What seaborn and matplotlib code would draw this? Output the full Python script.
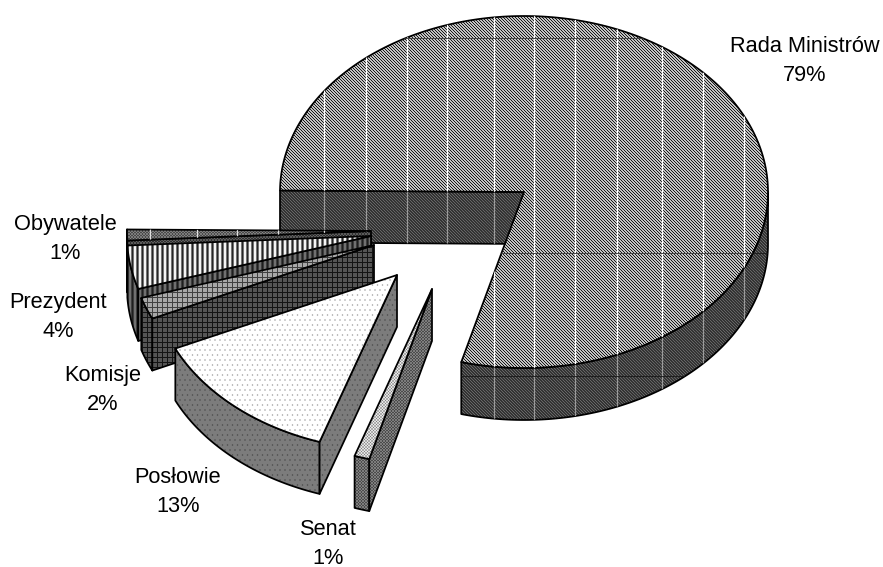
import numpy as np
import matplotlib
matplotlib.use("Agg")
import matplotlib.pyplot as plt
from matplotlib.patches import Polygon
import seaborn as sns

# Share of legislative initiatives by proposing body
categories = ["Rada Ministrów", "Senat", "Posłowie", "Komisje", "Prezydent", "Obywatele"]
shares = [79, 1, 13, 2, 4, 1]

sns.set_theme(style="white", rc={"axes.facecolor": "white", "figure.facecolor": "white"})
plt.rcParams["font.family"] = ["Liberation Sans", "DejaVu Sans"]

# Pie layout, in canvas pixels
DPI = 90  # hatch tiles are one inch wide, so 90 gives whole-pixel periods of 3 and 5
RX, RY, DEPTH = 244, 176, 52
START = 179.5
apexes = [(524, 192), (432, 289), (397, 275), (374, 245), (371, 236), (371, 231)]
label_xy = [(805, 61), (328, 544), (178, 492), (103, 390), (58, 317), (65, 239)]

# (face colour, hatch colour, hatch, hatch line width)
styles = {
    "Rada Ministrów": dict(top=("white", "black", "\\" * 10, 0.78), side=("#1e1e1e", "#6c6c6c", "\\" * 10, 0.85)),
    "Senat": dict(top=("#efefef", "#808080", "x" * 10, 0.35), side=("#3c3c3c", "#8c8c8c", "x" * 10, 0.5)),
    "Posłowie": dict(top=("white", "#a8a8a8", "...", 0.4), side=("#7c7c7c", "#505050", "...", 0.4)),
    "Komisje": dict(top=("#a8a8a8", "#404040", "+++", 0.8), side=("#555555", "#141414", "+++", 0.8)),
    "Prezydent": dict(top=("#f4f4f4", "#262626", "|||", 1.8), side=("#707070", "#1e1e1e", "|||", 1.8)),
    "Obywatele": dict(top=("#3a3a3a", "#8a8a8a", "x" * 10, 0.5), side=("#222222", "#6a6a6a", "x" * 10, 0.5)),
}
seam_x = [150, 197, 237, 278, 324, 366, 407, 447, 494, 534, 575, 617, 662, 703, 744]
seam_y = [38, 253, 376]


def rim(apex, t_from, t_to, n=160):
    t = np.radians(np.linspace(t_from, t_to, n))
    return np.column_stack([apex[0] + RX * np.cos(t), apex[1] - RY * np.sin(t)])


def face(ax, pts, style, outline=1.4):
    fc, hc, hatch, hlw = style
    with plt.rc_context({"hatch.linewidth": hlw}):
        patch = Polygon(pts, closed=True, facecolor=fc, edgecolor=hc, hatch=hatch, lw=0)
        ax.add_patch(patch)
    ax.add_patch(Polygon(pts, closed=True, fill=False, edgecolor="black", lw=outline, joinstyle="round"))
    return patch


def seams(ax, patch, colour_v, colour_h=None):
    lines = ax.vlines(seam_x, 0, 567, color=colour_v, lw=1.0, zorder=patch.get_zorder())
    lines.set_clip_path(patch)
    if colour_h:
        h = ax.hlines(seam_y, 0, 883, color=colour_h, lw=0.7, zorder=patch.get_zorder())
        h.set_clip_path(patch)


def extrude(edge):
    return np.vstack([edge, (edge + np.array([0, DEPTH]))[::-1]])


def radial(apex, t):
    return np.vstack([np.array([apex], dtype=float), rim(apex, t, t, 1)])


# Slice angles run clockwise from the left of the pie
ends = START - np.cumsum(shares) * 3.6
starts = np.concatenate([[START], ends[:-1]])

fig = plt.figure(figsize=(883 / DPI, 567 / DPI), dpi=DPI)
ax = fig.add_axes([0, 0, 1, 1])
ax.set_xlim(0, 883)
ax.set_ylim(567, 0)
ax.axis("off")

# The small slices stack towards the viewer, so paint them back to front after the big one
order = [0, 5, 4, 3, 2, 1]
for i in order:
    name, share, apex, (lx, ly) = categories[i], shares[i], apexes[i], label_xy[i]
    style = styles[name]
    t_hi, t_lo = starts[i], ends[i]

    if i == 0:
        # The opening of the big slice shows one inner wall and the front of its rim
        inner = face(ax, extrude(radial(apex, t_hi)), style["side"])
        seams(ax, inner, "#9a9a9a")
        outer = face(ax, extrude(rim(apex, t_lo, 0)), style["side"])
        seams(ax, outer, "#9a9a9a", "#1a1a1a")
    else:
        # Detached slices show their rim and the cut wall turned to the viewer
        face(ax, extrude(rim(apex, t_lo, t_hi)), style["side"])
        face(ax, extrude(radial(apex, t_hi)), style["side"])

    top = np.vstack([np.array([apex], dtype=float), rim(apex, t_hi, t_lo, 240)])
    top_patch = face(ax, top, style["top"])
    if i == 0:
        seams(ax, top_patch, "white", "#3c3c3c")
    elif name == "Obywatele":
        seams(ax, top_patch, "#e0e0e0")

    ax.text(lx, ly, f"{name}\n{share}%", ha="center", va="center", fontsize=17.4,
            color="black", linespacing=1.45)

fig.savefig("out.png", dpi=DPI)
